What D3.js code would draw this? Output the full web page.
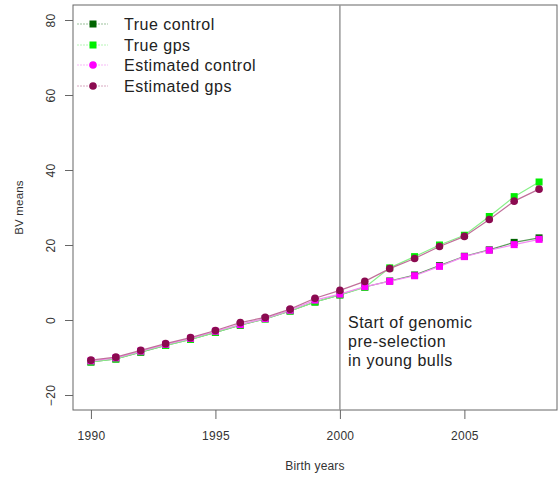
<!DOCTYPE html>
<html>
<head>
<meta charset="utf-8">
<script src="https://cdn.jsdelivr.net/npm/d3@7"></script>
<style>
  html, body { margin: 0; padding: 0; background: #fff; }
  svg { display: block; font-family: "Liberation Sans", Arial, sans-serif; }
</style>
</head>
<body>
<svg id="chart" width="559" height="478"></svg>
<script>
// Birth years and breeding value means per series
const years = d3.range(1990, 2009);
const trueControl = [-11.2, -10.4, -8.6, -6.8, -5.2, -3.3, -1.4, 0.3, 2.4, 4.8, 6.7, 8.8, 10.4, 12.0, 14.5, 17.0, 18.7, 20.7, 21.9];
const trueGps     = [-11.2, -10.4, -8.5, -6.8, -5.2, -3.3, -1.3, 0.3, 2.4, 4.8, 6.7, 8.7, 13.9, 16.9, 20.0, 22.6, 27.6, 32.9, 36.8];
const estControl  = [-10.9, -10.1, -8.3, -6.5, -4.9, -3.0, -1.2, 0.4, 2.6, 5.3, 6.9, 8.9, 10.3, 11.8, 14.3, 16.9, 18.6, 20.1, 21.5];
const estGps      = [-10.7, -9.9, -8.1, -6.3, -4.7, -2.8, -0.7, 0.7, 2.9, 5.8, 7.9, 10.3, 13.7, 16.4, 19.6, 22.3, 26.8, 31.7, 34.9];

const seriesNames = ["True control", "True gps", "Estimated control", "Estimated gps"];
const xTicks = [1990, 1995, 2000, 2005];
const yTicks = [-20, 0, 20, 40, 60, 80];
const splitYear = 2000;
const noteLines = ["Start of genomic", "pre-selection", "in young bulls"];

const series = [
  { name: seriesNames[0], values: trueControl, color: "#006400", line: "#5a9a5a", shape: "square", legendShape: "square" },
  { name: seriesNames[1], values: trueGps,     color: "#00ee00", line: "#88f088", shape: "square", legendShape: "square" },
  { name: seriesNames[2], values: estControl,  color: "#ff00ff", line: "#f48cf4", shape: "square", legendShape: "circle" },
  { name: seriesNames[3], values: estGps,      color: "#8b0a50", line: "#c0709a", shape: "circle", legendShape: "circle" }
];

const svg = d3.select("#chart");
const box = { left: 73, right: 557, top: 5, bottom: 410 };

// R-style 4% padding on both axes
const x = d3.scaleLinear().domain([1990 - 0.72, 2008 + 0.72]).range([box.left, box.right]);
const y = d3.scaleLinear().domain([-24, 84]).range([box.bottom, box.top]);

const axisColor = "#666";
const textColor = "#333";

// Axes
const xAxis = svg.append("g")
  .attr("transform", `translate(0,${box.bottom})`)
  .call(d3.axisBottom(x).tickValues(xTicks).tickFormat(d3.format("d")).tickSize(9).tickPadding(12));
const yAxis = svg.append("g")
  .attr("transform", `translate(${box.left},0)`)
  .call(d3.axisLeft(y).tickValues(yTicks).tickSize(8).tickPadding(0));
[xAxis, yAxis].forEach(g => {
  g.select(".domain").remove();
  g.selectAll(".tick line").attr("stroke", axisColor);
  g.selectAll(".tick text").attr("fill", textColor).attr("font-size", 12)
    .attr("letter-spacing", 0.3)
    .attr("font-family", "Liberation Sans, Arial, sans-serif");
});
yAxis.selectAll(".tick text")
  .attr("transform", "rotate(-90)")
  .attr("x", 0).attr("y", -18)
  .attr("dy", "0")
  .attr("text-anchor", "middle");

// Plot frame
svg.append("rect")
  .attr("x", box.left).attr("y", box.top)
  .attr("width", box.right - box.left).attr("height", box.bottom - box.top)
  .attr("fill", "none").attr("stroke", axisColor).attr("stroke-width", 1);

// Axis titles
svg.append("text").attr("x", 315).attr("y", 470).attr("text-anchor", "middle")
  .attr("font-size", 12).attr("letter-spacing", 0.2).attr("fill", textColor).text("Birth years");
svg.append("text").attr("transform", `translate(23,${(box.top + box.bottom) / 2}) rotate(-90)`)
  .attr("text-anchor", "middle").attr("font-size", 11.5).attr("letter-spacing", 0.2)
  .attr("fill", textColor).text("BV means");

// Vertical marker at the start of genomic pre-selection
svg.append("line")
  .attr("x1", x(splitYear)).attr("x2", x(splitYear))
  .attr("y1", box.top).attr("y2", box.bottom)
  .attr("stroke", "#999").attr("stroke-width", 1.5);

// Annotation
const note = svg.append("text").attr("x", 348).attr("y", 328)
  .attr("font-size", 16).attr("letter-spacing", 0.5).attr("fill", "#222");
noteLines.forEach((t, i) => note.append("tspan").attr("x", 348).attr("dy", i === 0 ? 0 : 19).text(t));

// Lines and markers
const line = d3.line().x((d, i) => x(years[i])).y(d => y(d));

function drawMarker(g, shape, cx, cy, color) {
  if (shape === "square") {
    g.append("rect").attr("x", cx - 3.5).attr("y", cy - 3.5).attr("width", 7).attr("height", 7).attr("fill", color);
  } else {
    g.append("circle").attr("cx", cx).attr("cy", cy).attr("r", 3.8).attr("fill", color);
  }
}

series.forEach(s => {
  const g = svg.append("g");
  g.append("path").datum(s.values).attr("d", line)
    .attr("fill", "none").attr("stroke", s.line).attr("stroke-width", 1.2);
  s.values.forEach((v, i) => drawMarker(g, s.shape, x(years[i]), y(v), s.color));
});

// Legend
const legendY = [24, 45, 65, 86];
series.forEach((s, i) => {
  const g = svg.append("g");
  g.append("line").attr("x1", 77).attr("x2", 108).attr("y1", legendY[i]).attr("y2", legendY[i])
    .attr("stroke", s.line).attr("stroke-width", 1).attr("stroke-dasharray", "2,1").attr("opacity", 0.6);
  drawMarker(g, s.legendShape, 93, legendY[i], s.color);
  g.append("text").attr("x", 124).attr("y", legendY[i] + 6)
    .attr("font-size", 16).attr("letter-spacing", 0.5).attr("fill", "#222").text(s.name);
});
</script>
</body>
</html>
